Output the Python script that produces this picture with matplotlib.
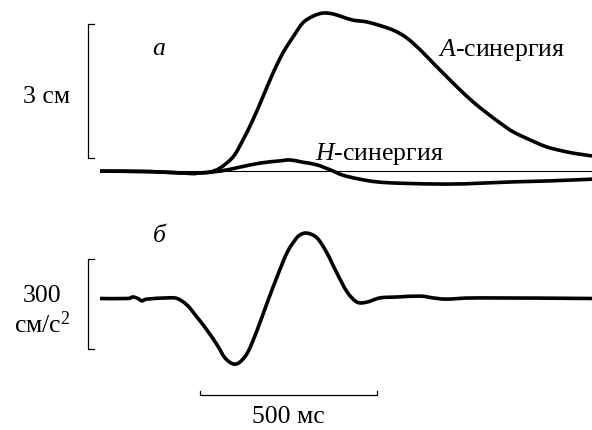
import matplotlib
matplotlib.use("Agg")
import matplotlib.pyplot as plt
from matplotlib.path import Path
from matplotlib.patches import PathPatch

plt.rcParams['font.family'] = ['Liberation Serif', 'DejaVu Serif']
plt.rcParams['mathtext.fontset'] = 'custom'
plt.rcParams['mathtext.rm'] = 'Liberation Serif'
plt.rcParams['mathtext.it'] = 'Liberation Serif:italic'

# ---- data (time in ms, displacement in cm, acceleration in cm/s^2) ----
t_a = [0, 141, 254, 282, 311, 339, 376, 404, 432, 460, 489, 517, 545, 573, 602, 630, 658,
       686, 715, 754, 799, 833, 867, 904, 941, 980, 1017, 1054, 1093, 1130, 1167, 1215,
       1263, 1319, 1356, 1390]
a_syn = [-0.01, -0.02, -0.06, -0.05, -0.03, 0.06, 0.31, 0.69, 1.14, 1.65, 2.19, 2.64, 2.99,
         3.31, 3.46, 3.53, 3.51, 3.44, 3.37, 3.33, 3.23, 3.13, 2.97, 2.71, 2.41, 2.10, 1.81,
         1.54, 1.29, 1.07, 0.87, 0.69, 0.53, 0.42, 0.37, 0.33]

t_h = [0, 141, 254, 282, 339, 395, 452, 508, 537, 573, 613, 650, 686, 734, 782, 847, 980,
       1073, 1167, 1263, 1390]
h_syn = [-0.01, -0.02, -0.06, -0.05, -0.01, 0.08, 0.17, 0.22, 0.24, 0.19, 0.13, 0.02, -0.10,
         -0.19, -0.25, -0.28, -0.30, -0.28, -0.25, -0.23, -0.19]

t_acc = [0, 76, 93, 107, 119, 133, 189, 218, 246, 274, 302, 331, 353, 376, 395, 418, 444,
         472, 500, 528, 551, 565, 585, 613, 641, 669, 698, 726, 754, 791, 839, 904, 941,
         980, 1073, 1390]
acc = [0, 0, 5, 0, -8, -2, 2, 0, -22, -62, -105, -155, -198, -218, -212, -178, -105,
       -15, 72, 152, 195, 212, 218, 202, 152, 85, 22, -12, -12, 2, 5, 8, 2, -2, 2, 0]

W, H = 592, 430
fig = plt.figure(figsize=(W / 100, H / 100), dpi=100)

px_per_ms = 177 / 500.0
x0 = 100
xlim = (-x0 / px_per_ms, (W - x0) / px_per_ms)

cm_px = 134 / 3.0
base_top = 170.7
ax1 = fig.add_axes([0, (H - 200) / H, 1, 200 / H])
ax1.set_xlim(*xlim)
ax1.set_ylim((base_top - 200) / cm_px, base_top / cm_px)
ax1.axis('off')

acc_px = 90 / 300.0
base_bot = 298.5
ax2 = fig.add_axes([0, 0, 1, 230 / H])
ax2.set_xlim(*xlim)
ax2.set_ylim((base_bot - 430) / acc_px, (base_bot - 200) / acc_px)
ax2.axis('off')


def smooth_curve(ax, xs, ys, lw=2.6):
    """Draw a smooth Catmull-Rom curve through the data points."""
    n = len(xs)
    verts = [(xs[0], ys[0])]
    codes = [Path.MOVETO]
    for i in range(n - 1):
        xm1, ym1 = (xs[i - 1], ys[i - 1]) if i > 0 else (xs[i], ys[i])
        xp2, yp2 = (xs[i + 2], ys[i + 2]) if i + 2 < n else (xs[i + 1], ys[i + 1])
        c1 = (xs[i] + (xs[i + 1] - xm1) / 6.0, ys[i] + (ys[i + 1] - ym1) / 6.0)
        c2 = (xs[i + 1] - (xp2 - xs[i]) / 6.0, ys[i + 1] - (yp2 - ys[i]) / 6.0)
        verts += [c1, c2, (xs[i + 1], ys[i + 1])]
        codes += [Path.CURVE4] * 3
    ax.add_patch(PathPatch(Path(verts, codes), facecolor='none', edgecolor='black',
                           lw=lw, joinstyle='round', capstyle='butt'))


ax1.plot([t_a[0], t_a[-1]], [0, 0], color='black', lw=0.8)
smooth_curve(ax1, t_a, a_syn)
smooth_curve(ax1, t_h, h_syn)
smooth_curve(ax2, t_acc, acc)

# scale bars
bx = (87.5 - x0) / px_per_ms
tick = 6.5 / px_per_ms
b_lo = (base_top - 158) / cm_px
ax1.plot([bx + tick, bx, bx, bx + tick], [b_lo + 3, b_lo + 3, b_lo, b_lo], color='black', lw=0.9)

b2_lo = (base_bot - 349) / acc_px
ax2.plot([bx + tick, bx, bx, bx + tick], [b2_lo + 300, b2_lo + 300, b2_lo, b2_lo],
         color='black', lw=0.9)

ty = (base_bot - 395) / acc_px
tt = 4 / acc_px
t_start = (200 - x0) / px_per_ms
ax2.plot([t_start, t_start, t_start + 500, t_start + 500], [ty + tt, ty, ty, ty + tt],
         color='black', lw=0.9)


def ftext(x, y, s, **kw):
    fig.text(x / W, 1 - y / H, s, ha='center', va='center', fontsize=18.5, **kw)


ftext(47, 97, "3 см")
ftext(159, 49, "а", style='italic')
ftext(501, 50, r"$\mathit{A}$-синергия")
ftext(379, 154, r"$\mathit{H}$-синергия")
ftext(159, 236, "б", style='italic')
ftext(42, 296, "300")
ftext(42, 325, r"см/с$^{2}$")
ftext(288, 417, "500 мс")

fig.savefig("out.png", dpi=100)
